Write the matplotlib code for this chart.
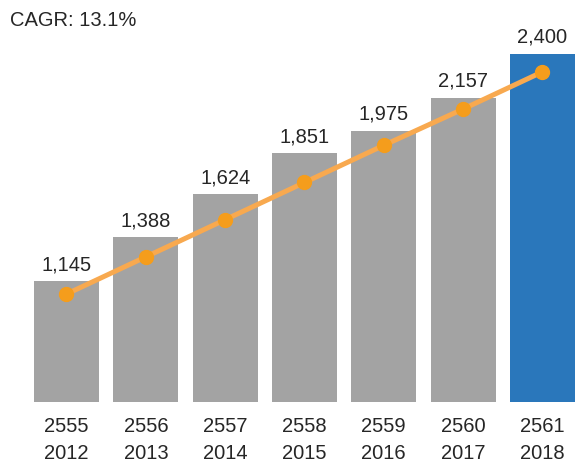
import matplotlib.pyplot as plt

plt.rcParams['font.family'] = ['Liberation Sans', 'DejaVu Sans']

thai_years = ["2555", "2556", "2557", "2558", "2559", "2560", "2561"]
years = ["2012", "2013", "2014", "2015", "2016", "2017", "2018"]
values = [1145, 1388, 1624, 1851, 1975, 2157, 2400]
trend = [1075, 1280, 1485, 1690, 1895, 2095, 2300]
cagr_text = "CAGR: 13.1%"

GRAY = "#a3a3a3"
BLUE = "#2a77bb"
LINE = "#f8a94f"
DOT = "#f59d1c"
TXT = "#262626"

fig = plt.figure(figsize=(5.75, 4.62), dpi=100)
ax = fig.add_axes([0, 60 / 462, 1, 402 / 462])

x = list(range(len(values)))
colors = [GRAY] * (len(values) - 1) + [BLUE]
ax.bar(x, values, width=0.82, color=colors, zorder=1)
ax.plot(x, trend, color=LINE, lw=3.6, zorder=2)
ax.plot(x, trend, "o", color=DOT, ms=10, zorder=3)

for xi, v in zip(x, values):
    ax.annotate(f"{v:,}", (xi, v), xytext=(0, 5), textcoords="offset points",
                ha="center", va="bottom", fontsize=14.5, color=TXT)

ax.set_xlim(-0.838, 6.41)
ax.set_ylim(480, 2696)
ax.set_xticks(x)
ax.set_xticklabels([f"{a}\n{b}" for a, b in zip(thai_years, years)],
                   fontsize=14.5, color=TXT, linespacing=1.55)
ax.tick_params(axis="x", length=0, pad=10.5)
ax.set_yticks([])
for s in ax.spines.values():
    s.set_visible(False)

fig.text(10 / 575, 1 - 20 / 462, cagr_text, fontsize=14.5, color=TXT, va="center", ha="left")

fig.savefig("out.png", dpi=100)
